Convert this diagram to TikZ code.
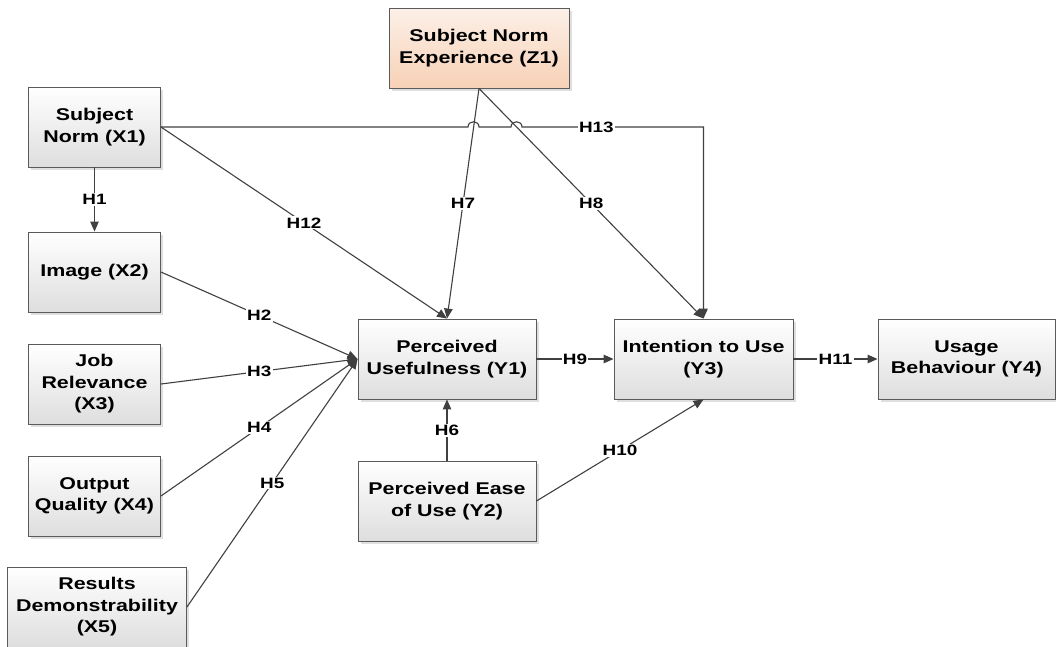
\documentclass[tikz,border=0pt]{standalone}
\usepackage{fontspec}
\newfontfamily\bfnt{Liberation Sans}[FakeStretch=1.26]
\usetikzlibrary{arrows.meta,shadows,calc}
\definecolor{lnc}{HTML}{404040}
\definecolor{bdc}{HTML}{5A5A5A}
\definecolor{pchtop}{HTML}{FCF0E8}
\definecolor{pchbot}{HTML}{F7D1B6}
\begin{document}
\begin{tikzpicture}[x=1pt,y=-1pt,
  box/.style={draw=bdc, line width=0.9pt, top color=white, bottom color=black!13,
    minimum width=132pt, minimum height=80pt, inner sep=0pt, align=center,
    font=\bfnt\bfseries\fontsize{17}{21.5}\selectfont,
    drop shadow={shadow xshift=2.5pt, shadow yshift=-2.5pt, fill=black!18, opacity=0.7}},
  peach/.style={top color=pchtop, bottom color=pchbot},
  arr/.style={draw=lnc, line width=1.1pt, -{Triangle[length=10pt,width=8.5pt]}},
  lbl/.style={fill=white, inner sep=1.2pt, text=black, font=\bfnt\bfseries\fontsize{15}{17}\selectfont}]
\useasboundingbox (0,0) rectangle (1056,646);
% nodes
\node[box] (X1) at (94.5,127) {Subject\\Norm (X1)};
\node[box] (X2) at (94.5,272) {Image (X2)};
\node[box] (X3) at (94.5,384) {Job\\Relevance\\(X3)};
\node[box] (X4) at (94.5,496) {Output\\Quality (X4)};
\node[box, minimum width=179pt] (X5) at (97,607) {Results\\Demonstrability\\(X5)};
\node[box, peach, minimum width=180pt] (Z1) at (479,48) {Subject Norm\\Experience (Z1)};
\node[box, minimum width=178pt] (Y1) at (447,359) {Perceived\\Usefulness (Y1)};
\node[box, minimum width=178pt] (Y2) at (447,501) {Perceived Ease\\of Use (Y2)};
\node[box, minimum width=179pt] (Y3) at (703.5,359) {Intention to Use\\(Y3)};
\node[box, minimum width=177pt] (Y4) at (966.5,359) {Usage\\Behaviour (Y4)};
% coordinates for H13 path with hops
\coordinate (h1a) at (468,127);
\coordinate (h1b) at (479,127);
\coordinate (h2a) at (511,127);
\coordinate (h2b) at (522,127);
\coordinate (hc) at (Y3.north |- X1.east);
% connectors
\draw[arr] (X1.south) -- node[lbl] {H1} (X2.north);
\draw[arr] (X1.east) -- node[lbl] {H12} (Y1.north);
\draw[arr] (Z1.south) -- node[lbl] {H7} (Y1.north);
\draw[arr] (Z1.south) -- node[lbl] {H8} (Y3.north);
\draw[arr] (X1.east) -- (h1a) .. controls ($(h1a)+(0,-7)$) and ($(h1b)+(0,-7)$) .. (h1b)
  -- (h2a) .. controls ($(h2a)+(0,-7)$) and ($(h2b)+(0,-7)$) .. (h2b)
  -- node[lbl, pos=0.41] {H13} (hc) -- (Y3.north);
\draw[arr] (X2.east) -- node[lbl] {H2} (Y1.west);
\draw[arr] (X3.east) -- node[lbl] {H3} (Y1.west);
\draw[arr] (X4.east) -- node[lbl] {H4} (Y1.west);
\draw[arr] (X5.east) -- node[lbl] {H5} (Y1.west);
\draw[arr] (Y1.east) -- node[lbl] {H9} (Y3.west);
\draw[arr] (Y2.north) -- node[lbl] {H6} (Y1.south);
\draw[arr] (Y2.east) -- node[lbl] {H10} (Y3.south);
\draw[arr] (Y3.east) -- node[lbl] {H11} (Y4.west);
\end{tikzpicture}
\end{document}
